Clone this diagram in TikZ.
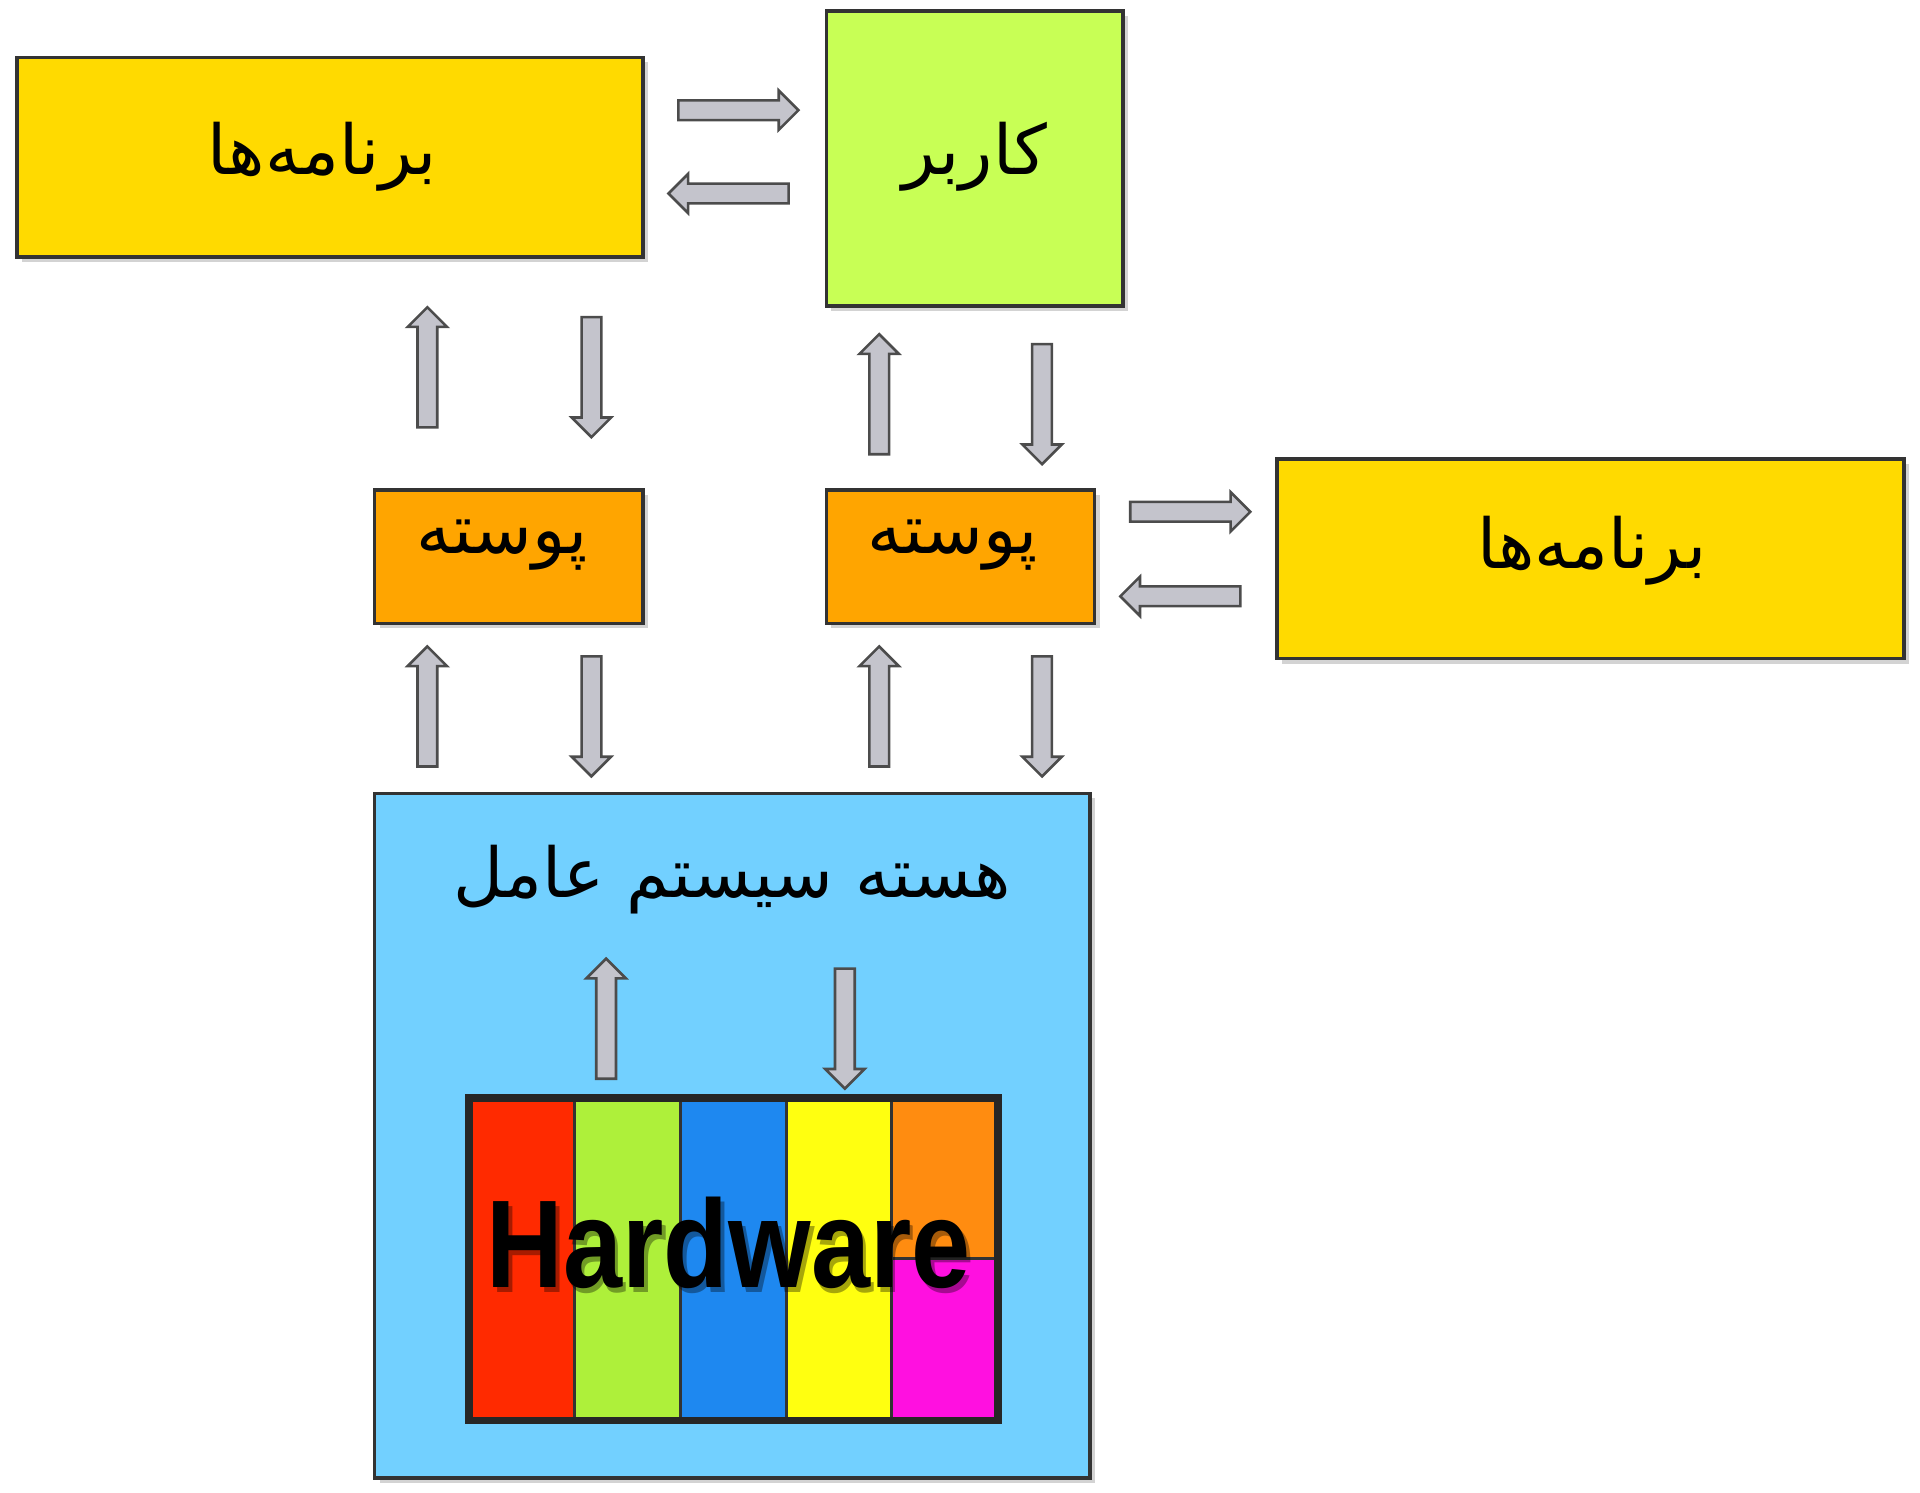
\documentclass[tikz,border=0pt]{standalone}
\usepackage{fontspec}
\newfontfamily\arabicfont[Script=Arabic]{DejaVu Sans}
\newfontfamily\hwfont{Liberation Sans}
\TeXXeTstate=1
\usetikzlibrary{shapes.arrows, shadows}
\definecolor{progyellow}{HTML}{FFDA00}
\definecolor{usergreen}{HTML}{C8FF55}
\definecolor{shellorange}{HTML}{FFA500}
\definecolor{kernelblue}{HTML}{72D0FF}
\definecolor{arrowgray}{HTML}{C4C4CC}
\definecolor{hwred}{HTML}{FF2A00}
\definecolor{hwgreen}{HTML}{AEF03A}
\definecolor{hwblue}{HTML}{1E88F0}
\definecolor{hwyellow}{HTML}{FFFF10}
\definecolor{hworange}{HTML}{FF8C10}
\definecolor{hwpink}{HTML}{FF10E0}
\begin{document}
\begin{tikzpicture}[x=0.01cm, y=-0.01cm,
    box/.style={draw=black!80, line width=0.8pt, drop shadow={opacity=0.35, shadow xshift=0.04cm, shadow yshift=-0.04cm}},
    label/.style={font=\arabicfont\fontsize{16}{20}\selectfont},
    flow/.style={single arrow, draw=black!70, fill=arrowgray, line width=0.6pt,
      minimum height=0.98cm, inner sep=0.07cm, single arrow head extend=0.08cm,
      single arrow tip angle=90, anchor=center}
  ]
  \useasboundingbox (0,0) rectangle (1568,1219);
  % boxes
  \draw[box, fill=progyellow] (14,47) rectangle (525,210);
  \node[label] (progs1) at (263,128) {\beginR برنامه‌ها\endR};
  \draw[box, fill=usergreen] (675,9) rectangle (917,250);
  \node[label] (user) at (796,128) {\beginR کاربر\endR};
  \draw[box, fill=shellorange] (306,400) rectangle (525,509);
  \node[label] (shell1) at (410,445) {\beginR پوسته\endR};
  \draw[box, fill=shellorange] (675,400) rectangle (894,509);
  \node[label] (shell2) at (778,445) {\beginR پوسته\endR};
  \draw[box, fill=progyellow] (1043,375) rectangle (1555,538);
  \node[label] (progs2) at (1300,450) {\beginR برنامه‌ها\endR};
  \draw[box, fill=kernelblue] (306,648) rectangle (890,1207);
  \node[label] (kernel) at (598,718) {\beginR هسته سیستم عامل\endR};
  % hardware
  \fill[hwred] (383,897) rectangle (469,1160);
  \fill[hwgreen] (469,897) rectangle (556,1160);
  \fill[hwblue] (556,897) rectangle (642,1160);
  \fill[hwyellow] (642,897) rectangle (728,1160);
  \fill[hworange] (728,897) rectangle (815,1028);
  \fill[hwpink] (728,1028) rectangle (815,1160);
  \draw[black!80, line width=0.7pt] (728,1028) -- (815,1028);
  \foreach \xx in {469,556,642,728}
    \draw[black!80, line width=0.7pt] (\xx,897) -- (\xx,1160);
  \draw[black!85, line width=1.8pt] (383,897) rectangle (815,1160);
  \node[font=\hwfont\bfseries\fontsize{29}{33}\selectfont, text=black, opacity=0.35, xscale=0.85] at (598,1019) {Hardware};
  \node[font=\hwfont\bfseries\fontsize{29}{33}\selectfont, xscale=0.85] (hw) at (595,1015) {Hardware};
  % arrows
  \node[flow] (a1) at (599,90) {};
  \node[flow, rotate=180] (a2) at (599,158) {};
  \node[flow, rotate=90] (a3) at (349,304) {};
  \node[flow, rotate=-90] (a4) at (483,304) {};
  \node[flow, rotate=90] (a5) at (718,326) {};
  \node[flow, rotate=-90] (a6) at (851,326) {};
  \node[flow] (a7) at (968,418) {};
  \node[flow, rotate=180] (a8) at (968,487) {};
  \node[flow, rotate=90] (a9) at (349,581) {};
  \node[flow, rotate=-90] (a10) at (483,581) {};
  \node[flow, rotate=90] (a11) at (718,581) {};
  \node[flow, rotate=-90] (a12) at (851,581) {};
  \node[flow, rotate=90] (a13) at (495,836) {};
  \node[flow, rotate=-90] (a14) at (690,836) {};
\end{tikzpicture}
\end{document}
